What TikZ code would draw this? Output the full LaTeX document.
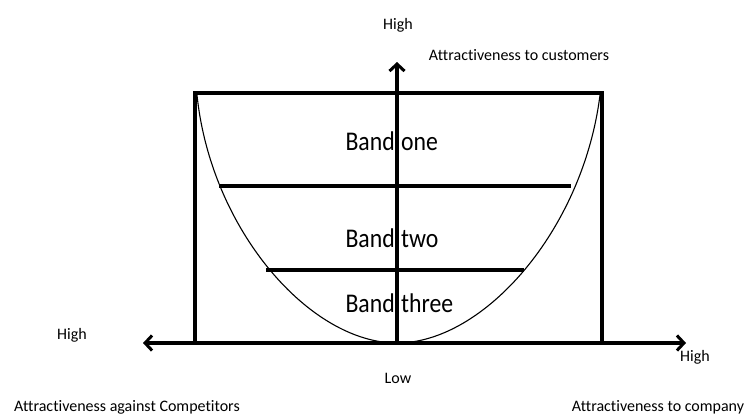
\documentclass[tikz,border=0pt]{standalone}
\usepackage{fontspec}
\setmainfont[Ligatures={NoCommon}]{Carlito}
\newfontfamily\bandfont[FakeStretch=0.88]{Carlito}
\usetikzlibrary{arrows.meta}
\begin{document}
\begin{tikzpicture}[x=1pt,y=-1pt,
  axis/.style={line width=3.2pt,-{Straight Barb[length=7pt,width=15pt,line width=3pt]}},
  frame/.style={line width=3.2pt},
  bandline/.style={line width=3.2pt},
  curve/.style={line width=1.1pt},
  small/.style={font=\fontsize{16}{19}\selectfont,inner sep=0pt},
  bandl/.style={font=\bandfont\fontsize{27}{32}\selectfont,inner sep=0pt,anchor=base east},
  bandr/.style={font=\bandfont\fontsize{27}{32}\selectfont,inner sep=0pt,anchor=base west}]
\useasboundingbox (0,0) rectangle (755,418);
\coordinate (o) at (397,343);
\coordinate (hl) at (143,343);
\coordinate (hr) at (686,343);
\coordinate (vt) at (397,62);
\coordinate (bl) at (195,343);
\coordinate (tl) at (195,93);
\coordinate (tr) at (602,93);
\coordinate (br) at (602,343);
\coordinate (c1) at (197,95);
\coordinate (c2) at (600,95);
\coordinate (b1l) at (219,186);
\coordinate (b1r) at (571,186);
\coordinate (b2l) at (266,270);
\coordinate (b2r) at (524,270);
% frame
\draw[frame] (bl) -- (tl) -- (tr) -- (br);
% curve
\draw[curve] (c1) .. controls (211,230) and (310,343) .. (o)
  .. controls (484,343) and (583,230) .. (c2);
% band lines
\draw[bandline] (b1l) -- (b1r);
\draw[bandline] (b2l) -- (b2r);
% axes
\draw[axis] (o) -- (hl);
\draw[axis] (o) -- (hr);
\draw[axis] (o) -- (vt);
% band labels
\node[bandl] (bone) at (395,150) {Band};
\node[bandr] (bonew) at (401,150) {one};
\node[bandl] (btwo) at (395,247) {Band};
\node[bandr] (btwow) at (401,247) {two};
\node[bandl] (bthree) at (395,312) {Band};
\node[bandr] (bthreew) at (401,312) {three};
% axis labels
\node[small] (hightop) at (398,25) {High};
\node[small] (cust) at (519,55) {Attractiveness to customers};
\node[small] (highleft) at (72,335) {High};
\node[small] (highright) at (695,357) {High};
\node[small] (low) at (398,378) {Low};
\node[small] (comp) at (127,407) {Attractiveness against Competitors};
\node[small] (company) at (658,407) {Attractiveness to company};
\end{tikzpicture}
\end{document}
